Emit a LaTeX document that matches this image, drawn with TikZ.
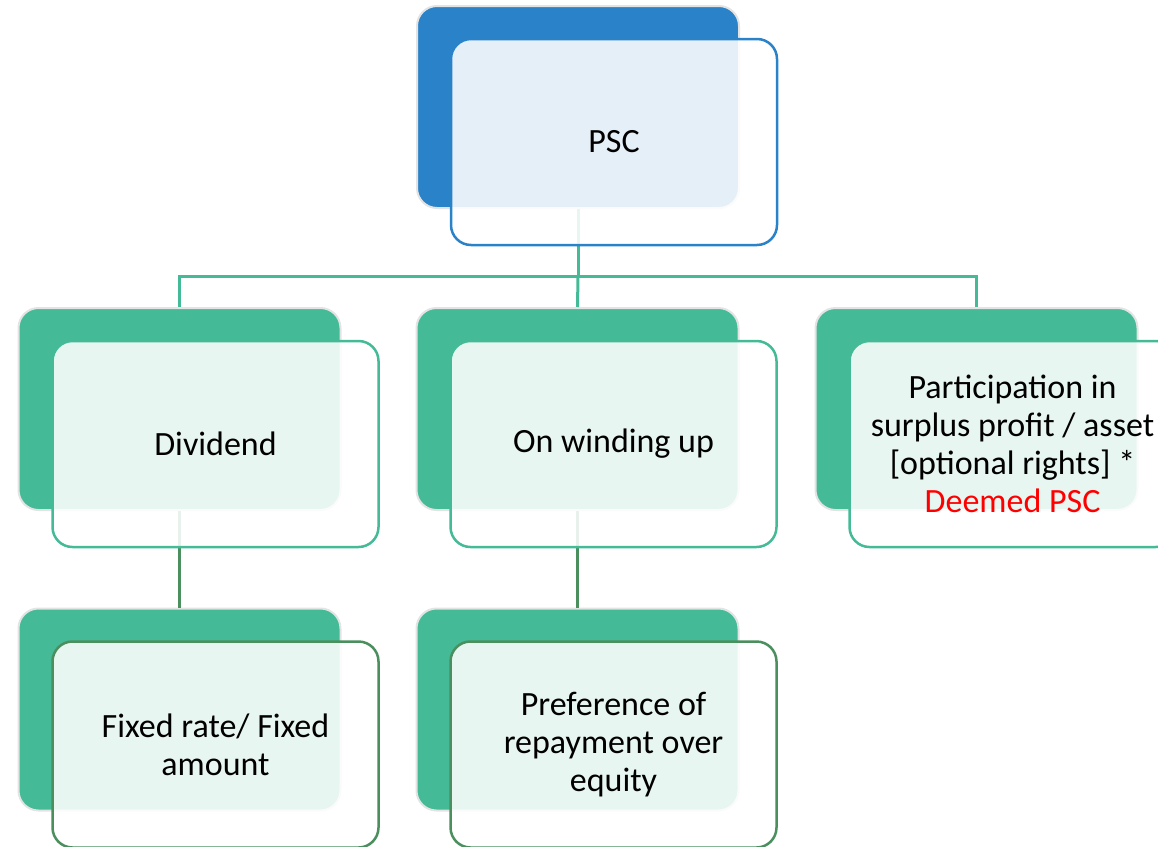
\documentclass[tikz,border=0pt]{standalone}
\usepackage{fontspec}
\setmainfont{Carlito}
\definecolor{PscBlue}{HTML}{2A82C8}
\definecolor{TealGreen}{HTML}{44BA97}
\definecolor{DarkGreen}{HTML}{4A8F5D}
\definecolor{EdgeGray}{HTML}{E3E3E3}

\begin{document}
\begin{tikzpicture}[x=1pt,y=-1pt]
		\useasboundingbox (0,0) rectangle (1158,846);
		\clip (0,0) rectangle (1158,846);
		\tikzset{BackStyle/.style = {draw=EdgeGray,line width=2pt,rounded corners=20pt,minimum width=322pt,minimum height=202pt,inner sep=0pt}}
		\tikzset{FrontStyle/.style = {line width=2.5pt,rounded corners=20pt,fill=white,fill opacity=0.88,text opacity=1,minimum width=326pt,minimum height=206pt,inner sep=0pt,align=center,font=\fontsize{34}{38}\selectfont}}
		\tikzset{EdgeStyle/.style = {line width=3pt}}
		% back boxes
		\node[BackStyle,fill=PscBlue] (psc-b) at (578,107) {};
		{
			\tikzset{BackStyle/.append style = {fill=TealGreen}}
			\node[BackStyle] (div-b) at (179.5,409) {};
			\node[BackStyle] (wind-b) at (577.5,409) {};
			\node[BackStyle] (part-b) at (976.5,409) {};
			\node[BackStyle] (fix-b) at (179.5,709.5) {};
			\node[BackStyle] (pref-b) at (577.5,709.5) {};
		}
		% connectors
		\draw[EdgeStyle,TealGreen] (psc-b.south) -- ++(0,67) coordinate (bus);
		\draw[EdgeStyle,TealGreen] (bus) -| (div-b.north);
		\draw[EdgeStyle,TealGreen] (bus) -- (wind-b.north);
		\draw[EdgeStyle,TealGreen] (bus) -| (part-b.north);
		{
			\tikzset{EdgeStyle/.append style = {DarkGreen}}
			\draw[EdgeStyle] (div-b.south) -- (fix-b.north);
			\draw[EdgeStyle] (wind-b.south) -- (pref-b.north);
		}
		% front boxes
		\node[FrontStyle,draw=PscBlue] (psc) at ([shift={(36,35)}]psc-b) {PSC};
		{
			\tikzset{FrontStyle/.append style = {draw=TealGreen}}
			\node[FrontStyle] (div) at ([shift={(36,35)}]div-b) {Dividend};
			\node[FrontStyle] (wind) at ([shift={(36,35)}]wind-b) {On winding up};
			\node[FrontStyle] (part) at ([shift={(36,35)}]part-b) {Participation in\\surplus profit / asset\\{}[optional rights] *\\\textcolor{red}{Deemed PSC}};
		}
		{
			\tikzset{FrontStyle/.append style = {draw=DarkGreen}}
			\node[FrontStyle] (fix) at ([shift={(36,35)}]fix-b) {Fixed rate/ Fixed\\amount};
			\node[FrontStyle] (pref) at ([shift={(36,35)}]pref-b) {Preference of\\repayment over\\equity};
		}
	\end{tikzpicture}
\end{document}
